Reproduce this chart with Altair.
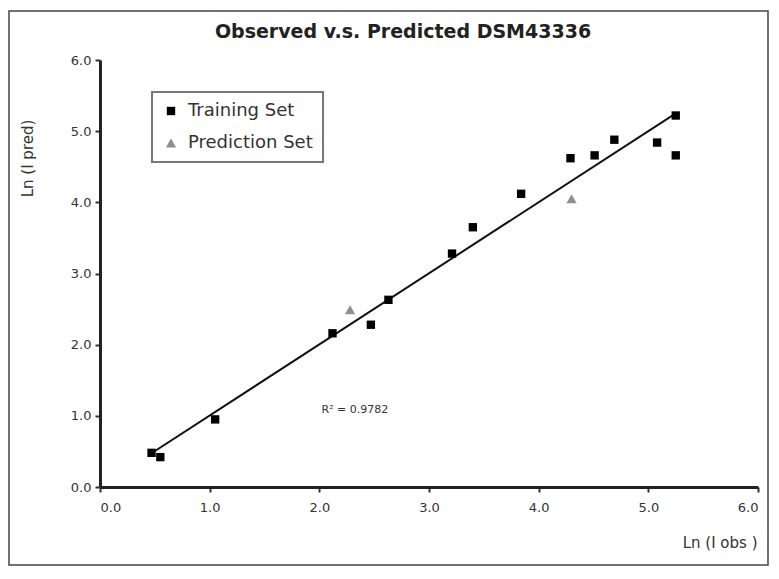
import altair as alt
import pandas as pd

train_x = [0.47, 0.55, 1.05, 2.12, 2.47, 2.63, 3.21, 3.40, 3.84, 4.29, 4.51, 4.69, 5.08, 5.25, 5.25]
train_y = [0.48, 0.42, 0.95, 2.16, 2.28, 2.63, 3.28, 3.65, 4.12, 4.62, 4.66, 4.88, 4.84, 5.22, 4.66]
pred_x = [2.28, 4.30]
pred_y = [2.49, 4.05]
tick_vals = [0, 1, 2, 3, 4, 5, 6]
r2_text = ["R\u00b2 = 0.9782"]
r2_pos = [(2.02, 1.08)]
title_text = ["Observed v.s. Predicted DSM43336"]
set_names = ["Training Set", "Prediction Set"]

W, H = 658, 427
FONT = "DejaVu Sans"

df = pd.DataFrame(
    {"obs": train_x + pred_x,
     "pred": train_y + pred_y,
     "set": [set_names[0]] * len(train_x) + [set_names[1]] * len(pred_x)}
)
train_df = df[df["set"] == set_names[0]]
r2_df = pd.DataFrame({"x": [p[0] for p in r2_pos], "y": [p[1] for p in r2_pos], "t": r2_text})
title_df = pd.DataFrame({"t": title_text})

xs = alt.Scale(domain=[0, 6], nice=False, zero=False)
ys = alt.Scale(domain=[0, 6], nice=False, zero=False)

xaxis = alt.Axis(values=tick_vals, format=".1f", title="Ln (I obs )", grid=False,
                 titleX=W - 1, titleY=48, titleAlign="right", titleFontWeight="normal",
                 titleFontSize=15, labelFontSize=13, labelPadding=9)
yaxis = alt.Axis(values=tick_vals, format=".1f", title="Ln (I pred)", grid=False,
                 titleX=-65, titleY=98, titleFontWeight="normal", titleFontSize=15,
                 labelFontSize=13, labelPadding=4)

frame = alt.Chart(pd.DataFrame({"a": [0]})).mark_rect(
    fill=None, stroke="#444", strokeWidth=1.5
).encode(x=alt.value(-91), x2=alt.value(W + 10), y=alt.value(-49), y2=alt.value(H + 78))

title = alt.Chart(title_df).mark_text(
    fontSize=19, fontWeight="bold", font=FONT, color="#222", align="center", baseline="middle"
).encode(x=alt.value(303), y=alt.value(-28), text="t:N")

pts = alt.Chart(df).mark_point(filled=True, opacity=1).encode(
    x=alt.X("obs:Q", scale=xs, axis=xaxis),
    y=alt.Y("pred:Q", scale=ys, axis=yaxis),
    color=alt.Color("set:N", scale=alt.Scale(domain=set_names, range=["#000000", "#8f8f8f"]),
                    legend=alt.Legend(title=None)),
    shape=alt.Shape("set:N", scale=alt.Scale(domain=set_names, range=["square", "triangle-up"]),
                    legend=alt.Legend(title=None)),
    size=alt.Size("set:N", scale=alt.Scale(domain=set_names, range=[70, 105]),
                  legend=alt.Legend(title=None)),
)

line = alt.Chart(train_df).transform_regression("obs", "pred").mark_line(
    color="#111", strokeWidth=2
).encode(x=alt.X("obs:Q", scale=xs), y=alt.Y("pred:Q", scale=ys))

r2 = alt.Chart(r2_df).mark_text(align="left", fontSize=11, color="#333", font=FONT).encode(
    x=alt.X("x:Q", scale=xs), y=alt.Y("y:Q", scale=ys), text="t:N"
)

chart = alt.layer(frame, title, line, pts, r2).properties(
    width=W, height=H,
    autosize=alt.AutoSizeParams(type="none"),
    padding={"left": 92, "top": 52, "right": 12, "bottom": 80},
).configure_view(stroke=None).configure_axis(
    domainColor="#222", domainWidth=3, tickColor="#333", tickWidth=2, tickSize=5,
    labelColor="#333", titleColor="#333", labelFont=FONT, titleFont=FONT,
).configure_legend(
    orient="none", legendX=52, legendY=32, strokeColor="#777", strokeWidth=2,
    padding=10, labelFontSize=18, labelFont=FONT, labelColor="#333", labelOffset=8,
    rowPadding=14, symbolOpacity=1
)

chart.save("out.html", embed_options={"renderer": "svg", "actions": False})
